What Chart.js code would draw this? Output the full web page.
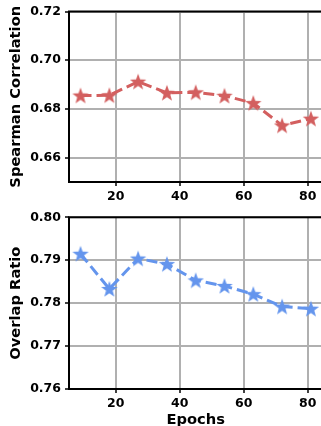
<!DOCTYPE html>
<html>
<head>
<meta charset="utf-8">
<script src="https://cdn.jsdelivr.net/npm/chart.js@4/dist/chart.umd.min.js"></script>
<style>
html,body{margin:0;padding:0;background:#fff;width:321px;height:426px;overflow:hidden;position:relative;}
#c1{position:absolute;left:0;top:0;}
#c2{position:absolute;left:0;top:200px;}
</style>
</head>
<body>
<canvas id="c1" width="330" height="200"></canvas>
<canvas id="c2" width="330" height="240"></canvas>
<script>
const epochs = [9, 18, 27, 36, 45, 54, 63, 72, 81];
const spearman = [0.6855, 0.6856, 0.6912, 0.6866, 0.6868, 0.6854, 0.6824, 0.6732, 0.6760];
const overlap = [0.7915, 0.7833, 0.7904, 0.7891, 0.7853, 0.7840, 0.7821, 0.7792, 0.7787];
const xTicks = [20, 40, 60, 80];
const spearmanTicks = [0.66, 0.68, 0.70, 0.72];
const overlapTicks = [0.76, 0.77, 0.78, 0.79, 0.80];

const RED = '#d35f5f';
const BLUE = '#6495ed';
const FONT = 'DejaVu Sans';

function starImage(color) {
  const s = 20, c = document.createElement('canvas');
  c.width = s; c.height = s;
  const g = c.getContext('2d');
  const R = 8.6, r = 3.5, cx = s / 2, cy = s / 2 + 0.7;
  g.beginPath();
  for (let i = 0; i < 10; i++) {
    const rad = i % 2 === 0 ? R : r;
    const a = -Math.PI / 2 + i * Math.PI / 5;
    const px = cx + rad * Math.cos(a), py = cy + rad * Math.sin(a);
    if (i === 0) g.moveTo(px, py); else g.lineTo(px, py);
  }
  g.closePath();
  g.fillStyle = color;
  g.fill();
  return c;
}

const framePlugin = {
  id: 'frame',
  beforeDatasetsDraw(chart) {
    const a = chart.chartArea, ctx = chart.ctx;
    ctx.save();
    ctx.strokeStyle = '#000';
    ctx.lineWidth = 2;
    ctx.strokeRect(a.left, a.top, a.right - a.left, a.bottom - a.top);
    ctx.restore();
  }
};

function makeChart(id, values, color, yMin, yMax, yTicks, yTitle, xTitle, padTop, xHeight) {
  const ctx = document.getElementById(id);
  return new Chart(ctx, {
    type: 'line',
    data: {
      datasets: [{
        data: epochs.map((e, i) => ({x: e, y: values[i]})),
        borderColor: color,
        backgroundColor: color,
        borderWidth: 3,
        borderDash: [11, 5],
        tension: 0,
        pointStyle: starImage(color),
        pointRadius: 9,
        pointHoverRadius: 9
      }]
    },
    options: {
      responsive: false,
      animation: false,
      devicePixelRatio: 1,
      events: [],
      layout: {autoPadding: false, padding: {top: padTop, right: 330 - 322.4, left: 0, bottom: 0}},
      plugins: {legend: {display: false}, tooltip: {enabled: false}},
      scales: {
        x: {
          type: 'linear',
          min: 5.4,
          max: 84.6,
          afterBuildTicks: s => { s.ticks = xTicks.map(v => ({value: v})); },
          afterFit: s => { s.height = xHeight; },
          border: {display: false},
          grid: {color: '#b0b0b0', lineWidth: 2, drawTicks: true, tickLength: 4, tickColor: '#000', tickWidth: 1.5},
          ticks: {color: '#000', font: {family: FONT, size: 12.5, weight: 'bold'}, padding: 3, maxRotation: 0, callback: v => String(v)},
          title: xTitle ? {display: true, text: xTitle, color: '#000', font: {family: FONT, size: 14.7, weight: 'bold'}, padding: {top: 0, bottom: 11}} : {display: false}
        },
        y: {
          type: 'linear',
          min: yMin,
          max: yMax,
          afterBuildTicks: s => { s.ticks = yTicks.map(v => ({value: v})); },
          afterFit: s => { s.width = 69; },
          border: {display: false},
          grid: {color: '#b0b0b0', lineWidth: 2, drawTicks: true, tickLength: 4, tickColor: '#000', tickWidth: 1.5},
          ticks: {color: '#000', font: {family: FONT, size: 12.5, weight: 'bold'}, padding: 4, callback: v => v.toFixed(2)},
          title: {display: true, text: yTitle, color: '#000', font: {family: FONT, size: 14.7, weight: 'bold'}, padding: {top: 7, bottom: 0}}
        }
      }
    },
    plugins: [framePlugin]
  });
}

makeChart('c1', spearman, RED, 0.65, 0.72, spearmanTicks, 'Spearman Correlation', null, 11, 18);
makeChart('c2', overlap, BLUE, 0.76, 0.80, overlapTicks, 'Overlap Ratio', 'Epochs', 17.3, 51);
</script>
</body>
</html>
